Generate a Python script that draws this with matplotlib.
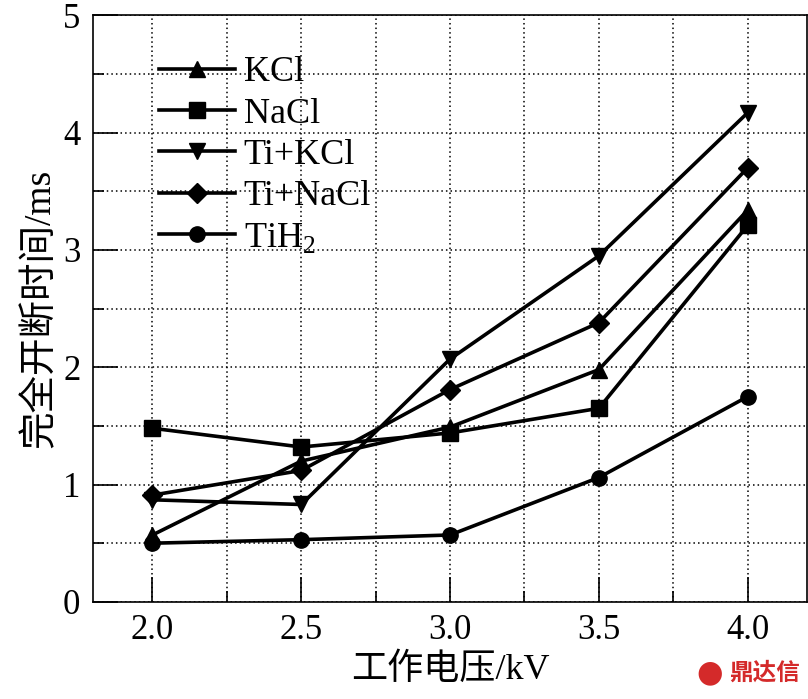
import matplotlib
matplotlib.use("Agg")
import matplotlib.pyplot as plt
from matplotlib.ticker import MultipleLocator

plt.rcParams['font.family'] = ['Liberation Serif', 'Noto Sans CJK SC']
plt.rcParams['mathtext.fontset'] = 'custom'
plt.rcParams['mathtext.rm'] = 'Liberation Serif'

# 工作电压 / kV
voltage = [2.0, 2.5, 3.0, 3.5, 4.0]

# 完全开断时间 / ms
kcl = [0.57, 1.20, 1.49, 1.98, 3.34]
nacl = [1.48, 1.32, 1.44, 1.65, 3.21]
ti_kcl = [0.87, 0.83, 2.07, 2.95, 4.17]
ti_nacl = [0.91, 1.12, 1.81, 2.38, 3.70]
tih2 = [0.50, 0.53, 0.57, 1.06, 1.75]

series = [
    ("KCl", kcl, "^"),
    ("NaCl", nacl, "s"),
    ("Ti+KCl", ti_kcl, "v"),
    ("Ti+NaCl", ti_nacl, "D"),
    ("TiH$_2$", tih2, "o"),
]

fig = plt.figure(figsize=(8.08, 6.99), dpi=100)
ax = fig.add_axes([0.115, 0.139, 0.884, 0.839])

for name, vals, mk in series:
    ms = 10 if mk == "D" else 11
    ax.plot(voltage, vals, color="black", lw=2.6, marker=mk, ms=ms, label=name)

ax.set_xlim(1.8, 4.2)
ax.set_ylim(0, 5)
ax.xaxis.set_major_locator(MultipleLocator(0.5))
ax.xaxis.set_minor_locator(MultipleLocator(0.25))
ax.yaxis.set_major_locator(MultipleLocator(1))
ax.yaxis.set_minor_locator(MultipleLocator(0.5))
ax.set_xticks([2.0, 2.5, 3.0, 3.5, 4.0])
ax.set_xticklabels(["2.0", "2.5", "3.0", "3.5", "4.0"])

ax.grid(which="both", color="black", linestyle=(0, (1, 2)), linewidth=1.1)
ax.tick_params(which="major", direction="in", length=18, width=1.2, labelsize=25, pad=9,
               top=False, right=False)
ax.tick_params(which="minor", direction="in", length=8, width=1.2, top=False, right=False)
for s in ax.spines.values():
    s.set_linewidth(1.2)

ax.set_xlabel("工作电压/kV", fontsize=26, labelpad=4)
ax.set_ylabel("完全开断时间/ms", fontsize=27, labelpad=4)

leg = ax.legend(loc="upper left", bbox_to_anchor=(0.072, 0.955), frameon=False, fontsize=26,
                handlelength=2.1, handletextpad=0.25, labelspacing=0.22, borderaxespad=0)

# watermark
fig.text(0.99, 0.037, "鼎达信", color="#d42a2a", fontsize=17, fontweight="bold",
         ha="right", va="center", family=["Noto Sans CJK SC"])
fig.text(0.878, 0.037, "\u25CF", color="#d42a2a", fontsize=22, ha="center", va="center",
         family=["DejaVu Sans"])

fig.savefig("out.png", dpi=100)
